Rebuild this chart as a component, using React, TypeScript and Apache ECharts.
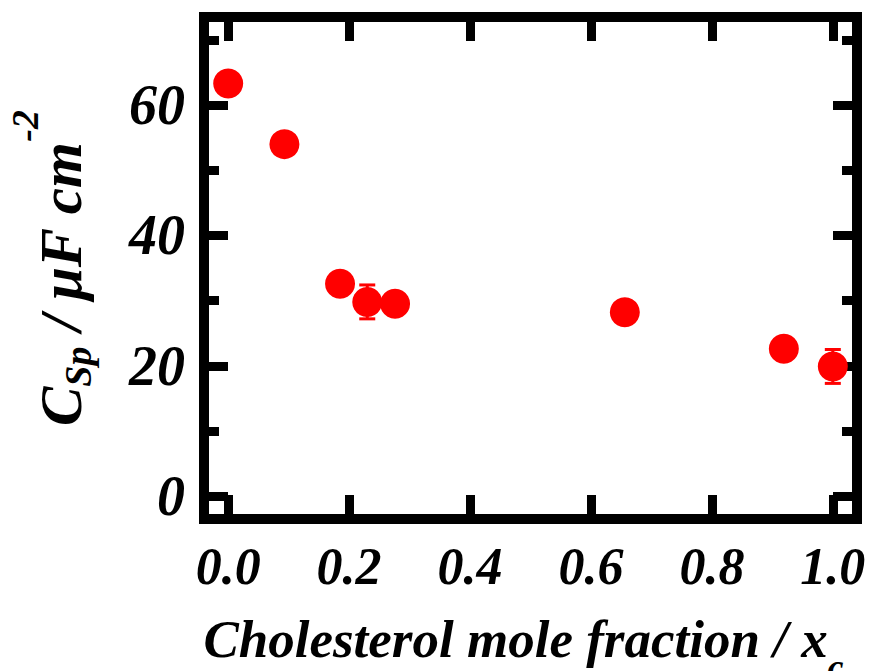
import React, { useEffect, useRef } from "react";
import * as echarts from "echarts";

const xValues = [0, 0.093, 0.185, 0.23, 0.276, 0.656, 0.919, 1.0];
const yValues = [63.3, 54.0, 32.6, 29.8, 29.5, 28.2, 22.6, 19.9];
const yErrors = [0, 0, 0, 2.6, 0, 0, 0, 2.6];

const xTicks = [0, 0.2, 0.4, 0.6, 0.8, 1.0];
const yTicks = [0, 20, 40, 60];
const yMinorTicks = [10, 30, 50, 70];

const FONT = "'Liberation Serif', 'Times New Roman', serif";
const RED = "#ff0000";

export default function App() {
  const ref = useRef<HTMLDivElement>(null);
  useEffect(() => {
    if (!ref.current) return;
    const chart = echarts.init(ref.current, null, { renderer: "svg" });
    const baseText = { fontFamily: FONT, fontWeight: "bold", fontStyle: "italic", color: "#000" };
    const tickStyle = { color: "#000", width: 9 };
    const xBase = {
      type: "value",
      min: -0.04,
      max: 1.04,
      splitLine: { show: false },
      axisLine: { show: false, onZero: false },
      axisTick: { show: true, inside: true, length: 24, lineStyle: tickStyle, customValues: xTicks },
    };
    const yBase = {
      type: "value",
      min: -3.5,
      max: 73.5,
      splitLine: { show: false },
      axisLine: { show: false, onZero: false },
      axisTick: { show: true, inside: true, length: 24, lineStyle: tickStyle, customValues: yTicks },
    };
    const yMinor = {
      ...yBase,
      axisTick: { show: true, inside: true, length: 15, lineStyle: tickStyle, customValues: yMinorTicks },
      axisLabel: { show: false },
    };
    chart.setOption({
      animation: false,
      backgroundColor: "#fff",
      grid: {
        left: 204,
        right: 13,
        top: 17,
        bottom: 152,
        containLabel: false,
        outerBoundsMode: "none",
        show: true,
        borderWidth: 10,
        borderColor: "#000",
        backgroundColor: "transparent",
      },
      xAxis: [
        {
          ...xBase,
          position: "bottom",
          axisLabel: {
            ...baseText,
            fontSize: 52,
            margin: 21,
            customValues: xTicks,
            formatter: (v: number) => v.toFixed(1),
          },
          name: "{m|Cholesterol mole fraction / x}{s|c}",
          nameLocation: "middle",
          nameGap: 93,
          nameTextStyle: {
            padding: [0, 14, 0, 0],
            rich: {
              m: { ...baseText, fontSize: 53, lineHeight: 73, verticalAlign: "top" },
              s: { ...baseText, fontSize: 36, lineHeight: 36, verticalAlign: "bottom" },
            },
          },
        },
        {
          ...xBase,
          position: "top",
          axisLabel: { show: false },
        },
      ],
      yAxis: [
        {
          ...yBase,
          position: "left",
          axisLabel: { ...baseText, fontSize: 56, margin: 19, customValues: yTicks },
          name: "{m|C}{s|Sp}{m| / μF cm}{p|-2}",
          nameLocation: "middle",
          nameGap: 88,
          nameTextStyle: {
            rich: {
              m: { ...baseText, fontSize: 59, lineHeight: 110, verticalAlign: "middle" },
              s: { ...baseText, fontSize: 38, lineHeight: 38, padding: [0, 0, 19, 0], verticalAlign: "bottom" },
              p: { ...baseText, fontSize: 38, lineHeight: 38, verticalAlign: "top" },
            },
          },
        },
        {
          ...yBase,
          position: "right",
          axisLabel: { show: false },
        },
        { ...yMinor, position: "left" },
        { ...yMinor, position: "right" },
      ],
      series: [
        {
          type: "custom",
          xAxisIndex: 0,
          yAxisIndex: 0,
          data: xValues.map((x, i) => [x, yValues[i], yErrors[i]]),
          encode: { x: 0, y: 1 },
          renderItem: (params: any, api: any) => {
            const x = api.value(0);
            const y = api.value(1);
            const e = api.value(2);
            if (!e) return null;
            const top = api.coord([x, y + e]);
            const bot = api.coord([x, y - e]);
            const hw = 8;
            const st = { stroke: RED, lineWidth: 3 };
            return {
              type: "group",
              children: [
                { type: "line", shape: { x1: top[0], y1: top[1], x2: bot[0], y2: bot[1] }, style: st },
                { type: "line", shape: { x1: top[0] - hw, y1: top[1], x2: top[0] + hw, y2: top[1] }, style: st },
                { type: "line", shape: { x1: bot[0] - hw, y1: bot[1], x2: bot[0] + hw, y2: bot[1] }, style: st },
              ],
            };
          },
          z: 2,
        },
        {
          type: "scatter",
          xAxisIndex: 0,
          yAxisIndex: 0,
          data: xValues.map((x, i) => [x, yValues[i]]),
          symbol: "circle",
          symbolSize: 30,
          itemStyle: { color: RED, opacity: 1 },
          z: 3,
        },
      ],
    });
    return () => chart.dispose();
  }, []);
  return (
    <div
      ref={ref}
      style={{ position: "fixed", left: 0, top: 0, width: 870, height: 671, background: "#fff" }}
    />
  );
}
